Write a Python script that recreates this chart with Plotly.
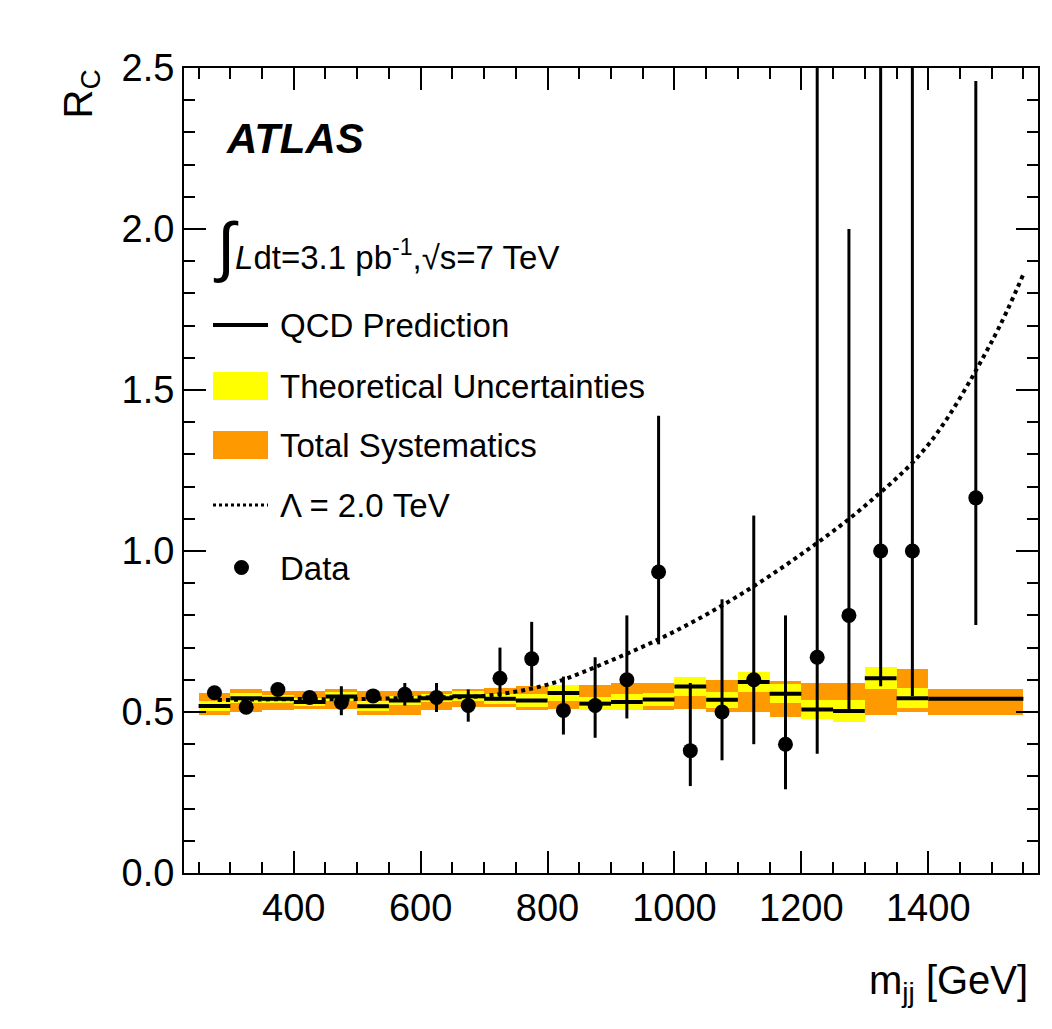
import plotly.graph_objects as go

# bins of m_jj [GeV]
bin_lo = [250, 300, 350, 400, 450, 500, 550, 600, 650, 700, 750, 800, 850, 900,
          950, 1000, 1050, 1100, 1150, 1200, 1250, 1300, 1350, 1400]
bin_hi = bin_lo[1:] + [1550]

qcd = [0.519, 0.543, 0.541, 0.531, 0.548, 0.518, 0.536, 0.543, 0.549, 0.541, 0.536, 0.559,
       0.526, 0.531, 0.539, 0.579, 0.538, 0.593, 0.557, 0.508, 0.503, 0.605, 0.543, 0.541]
syst_hi = [0.56, 0.57, 0.565, 0.565, 0.57, 0.565, 0.565, 0.565, 0.57, 0.575, 0.58, 0.585,
           0.585, 0.59, 0.59, 0.61, 0.60, 0.62, 0.595, 0.59, 0.59, 0.64, 0.635, 0.57]
syst_lo = [0.49, 0.50, 0.505, 0.51, 0.51, 0.49, 0.49, 0.505, 0.515, 0.515, 0.505, 0.51,
           0.505, 0.505, 0.505, 0.51, 0.50, 0.50, 0.485, 0.485, 0.49, 0.49, 0.50, 0.49]
theo_half = [0.015, 0.015, 0.013, 0.012, 0.015, 0.015, 0.015, 0.012, 0.015, 0.015, 0.02, 0.025,
             0.02, 0.025, 0.02, 0.03, 0.025, 0.03, 0.03, 0.03, 0.035, 0.035, 0.03, 0.005]

data_x = [275, 325, 375, 425, 475, 525, 575, 625, 675, 725, 775, 825, 875, 925, 975,
          1025, 1075, 1125, 1175, 1225, 1275, 1325, 1375, 1475]
data_y = [0.56, 0.515, 0.57, 0.545, 0.53, 0.55, 0.555, 0.545, 0.52, 0.605, 0.665, 0.505,
          0.52, 0.60, 0.935, 0.38, 0.50, 0.60, 0.40, 0.67, 0.80, 1.0, 1.0, 1.165]
data_up = [0.575, 0.53, 0.585, 0.565, 0.58, 0.565, 0.59, 0.59, 0.57, 0.70, 0.78, 0.61,
           0.67, 0.80, 1.42, 0.59, 0.85, 1.11, 0.80, 3.0, 2.0, 3.0, 3.0, 2.46]
data_dn = [0.545, 0.50, 0.555, 0.525, 0.49, 0.535, 0.52, 0.50, 0.47, 0.54, 0.58, 0.43,
           0.42, 0.48, 0.71, 0.27, 0.35, 0.40, 0.26, 0.37, 0.50, 0.58, 0.55, 0.77]

ci_x = [280, 400, 500, 600, 700, 800, 900, 1000, 1100, 1200, 1300, 1400, 1500, 1550]
ci_y = [0.537, 0.54, 0.54, 0.545, 0.55, 0.585, 0.66, 0.75, 0.86, 0.99, 1.14, 1.33, 1.65, 1.86]

centers = [(a + b) / 2 for a, b in zip(bin_lo, bin_hi)]
widths = [b - a for a, b in zip(bin_lo, bin_hi)]

fig = go.Figure()
fig.add_bar(x=centers, width=widths, base=syst_lo,
            y=[h - l for h, l in zip(syst_hi, syst_lo)],
            marker=dict(color="#ff9900", line_width=0))
fig.add_bar(x=centers, width=widths, base=[q - t for q, t in zip(qcd, theo_half)],
            y=[2 * t for t in theo_half], marker=dict(color="#ffff00", line_width=0))

lx, ly = [], []
for a, b, q in zip(bin_lo, bin_hi, qcd):
    lx += [a, b, None]
    ly += [q, q, None]
fig.add_scatter(x=lx, y=ly, mode="lines", line=dict(color="black", width=4))

fig.add_scatter(x=ci_x, y=ci_y, mode="lines", line=dict(color="black", width=4, dash="dot"),
                line_shape="spline")

fig.add_scatter(x=data_x, y=data_y, mode="markers",
                marker=dict(color="black", size=15),
                error_y=dict(type="data", symmetric=False,
                             array=[u - y for u, y in zip(data_up, data_y)],
                             arrayminus=[y - d for y, d in zip(data_y, data_dn)],
                             color="black", thickness=3, width=0))

fnt = "Liberation Sans, Arial, sans-serif"


def px(x):
    return (x - 176) / 854


def py(y):
    return (865 - y) / 805


shapes = [
    dict(type="line", xref="paper", yref="paper", x0=px(205), x1=px(260), y0=py(317), y1=py(317),
         line=dict(color="black", width=4)),
    dict(type="rect", xref="paper", yref="paper", x0=px(205), x1=px(260), y0=py(392), y1=py(364),
         fillcolor="#ffff00", line_width=0),
    dict(type="rect", xref="paper", yref="paper", x0=px(205), x1=px(260), y0=py(451), y1=py(423),
         fillcolor="#ff9900", line_width=0),
    dict(type="line", xref="paper", yref="paper", x0=px(205), x1=px(260), y0=py(497), y1=py(497),
         line=dict(color="black", width=3, dash="dot")),
    dict(type="circle", xref="paper", yref="paper", x0=px(226), x1=px(241), y0=py(567), y1=py(552),
         fillcolor="black", line_width=0),
]
labels = [("QCD Prediction", 317), ("Theoretical Uncertainties", 378),
          ("Total Systematics", 437), ("Λ = 2.0 TeV", 497), ("Data", 560)]
annotations = [dict(text=t, x=px(270), y=py(yy), xref="paper", yref="paper", xanchor="left",
                    yanchor="middle", showarrow=False, font=dict(size=33, family=fnt, color="black"))
               for t, yy in labels]
annotations += [
    dict(text="<b><i>ATLAS</i></b>", x=px(216), y=py(130), xref="paper", yref="paper",
         xanchor="left", yanchor="middle", showarrow=False,
         font=dict(size=42, family=fnt, color="black")),
    dict(text="<span style='font-size:66px'>∫</span><i>L</i>dt=3.1 pb<sup>-1</sup>,√s=7 TeV",
         x=px(203), y=py(238), xref="paper", yref="paper", xanchor="left", yanchor="middle",
         showarrow=False, font=dict(size=33, family=fnt, color="black")),
    dict(text="R<sub>C</sub>", x=px(72), y=1.0, xref="paper", yref="paper", xanchor="center",
         yanchor="top", textangle=-90, showarrow=False,
         font=dict(size=40, family=fnt, color="black")),
    dict(text="m<sub>jj</sub> [GeV]", x=px(1022), y=py(975), xref="paper", yref="paper",
         xanchor="right", yanchor="middle", showarrow=False,
         font=dict(size=40, family=fnt, color="black")),
]

fig.update_layout(
    width=1052, height=1029, barmode="overlay", showlegend=False, bargap=0,
    plot_bgcolor="white", paper_bgcolor="white",
    margin=dict(l=176, r=22, t=60, b=164, autoexpand=False),
    font=dict(family=fnt, size=38, color="black"),
    shapes=shapes, annotations=annotations,
)
axis_common = dict(showgrid=False, zeroline=False, showline=True, linecolor="black", linewidth=2,
                   mirror="ticks", ticks="inside", ticklen=22, tickwidth=1.5, tickcolor="black",
                   tickfont=dict(size=38, family=fnt), automargin=False)
fig.update_xaxes(range=[227, 1573], tick0=400, dtick=200,
                 minor=dict(dtick=50, tick0=250, ticks="inside", ticklen=11, tickcolor="black"),
                 **axis_common)
fig.update_yaxes(range=[0, 2.5], dtick=0.5, tickformat=".1f",
                 minor=dict(dtick=0.1, ticks="inside", ticklen=11, tickcolor="black"),
                 **axis_common)
fig.write_html("out.html")
